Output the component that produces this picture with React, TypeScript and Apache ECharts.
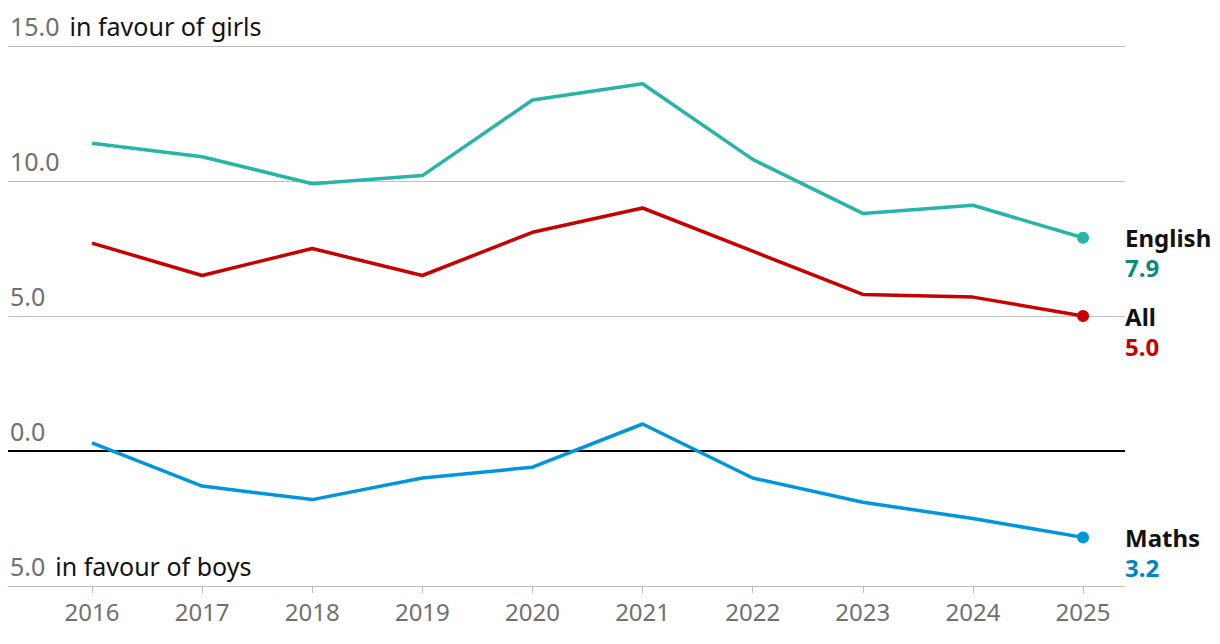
import React, { useEffect, useRef } from "react";
import * as echarts from "echarts";

const years = [2016, 2017, 2018, 2019, 2020, 2021, 2022, 2023, 2024, 2025];
const english = [11.4, 10.9, 9.9, 10.2, 13.0, 13.6, 10.8, 8.8, 9.1, 7.9];
const all = [7.7, 6.5, 7.5, 6.5, 8.1, 9.0, 7.4, 5.8, 5.7, 5.0];
const maths = [0.3, -1.3, -1.8, -1.0, -0.6, 1.0, -1.0, -1.9, -2.5, -3.2];

const FONT = "'Noto Sans', sans-serif";

const seriesDefs = [
  { name: "English", values: english, line: "#26b5a7", text: "#0a8a7e" },
  { name: "All", values: all, line: "#c70000", text: "#c70000" },
  { name: "Maths", values: maths, line: "#0096db", text: "#0084c6" },
];

export default function App() {
  const ref = useRef<HTMLDivElement>(null);
  useEffect(() => {
    if (!ref.current) return;
    const chart = echarts.init(ref.current, null, { renderer: "svg" });
    const series: any[] = [];
    seriesDefs.forEach((s, i) => {
      series.push({
        type: "line",
        name: s.name,
        data: years.map((y, k) => [y, s.values[k]]),
        showSymbol: false,
        symbol: "none",
        lineStyle: { color: s.line, width: 3.5 },
        z: 3,
        markLine:
          i === 0
            ? {
                symbol: "none",
                silent: true,
                label: { show: false },
                lineStyle: { color: "#000000", width: 2, type: "solid", opacity: 1 },
                data: [{ yAxis: 0 }],
                z: 1,
              }
            : undefined,
      });
      const last = s.values[s.values.length - 1];
      series.push({
        type: "scatter",
        data: [[years[years.length - 1], last]],
        symbol: "circle",
        symbolSize: 12,
        itemStyle: { color: s.line, opacity: 1 },
        z: 4,
        label: {
          show: true,
          position: "right",
          distance: 36,
          offset: [0, 15],
          opacity: 1,
          formatter: `{n|${s.name}}\n{v|${Math.abs(last).toFixed(1)}}`,
          rich: {
            n: { fontFamily: FONT, fontSize: 24, fontWeight: "bold", color: "#121212", lineHeight: 30 },
            v: { fontFamily: FONT, fontSize: 24, fontWeight: "bold", color: s.text, lineHeight: 30 },
          },
        },
      });
    });

    chart.setOption({
      animation: false,
      grid: { left: 8, right: 95, top: 46, bottom: 58, containLabel: false },
      xAxis: {
        type: "value",
        min: 2015.237,
        max: 2025.381,
        splitLine: { show: false },
        axisLine: { show: true, onZero: false, lineStyle: { color: "#bdbdbd", width: 1 } },
        axisTick: { show: true, length: 7, customValues: years, lineStyle: { color: "#bdbdbd" } },
        axisLabel: {
          customValues: years,
          formatter: (v: number) => String(Math.round(v)),
          color: "#707070",
          fontFamily: FONT,
          fontSize: 24,
          margin: 13,
        },
      },
      yAxis: {
        type: "value",
        min: -5,
        max: 15,
        interval: 5,
        axisLine: { show: false },
        axisTick: { show: false },
        splitLine: { show: true, lineStyle: { color: "#bdbdbd", width: 1 } },
        axisLabel: {
          inside: true,
          margin: 2,
          verticalAlign: "bottom",
          padding: [0, 0, 6, 0],
          formatter: (v: number) => {
            const num = Math.abs(v).toFixed(1);
            if (v === 15) return `{a|${num}}{b|in favour of girls}`;
            if (v === -5) return `{a|${num}}{b|in favour of boys}`;
            return `{a|${num}}`;
          },
          rich: {
            a: { fontFamily: FONT, fontSize: 25, color: "#707070", lineHeight: 28 },
            b: { fontFamily: FONT, fontSize: 25, color: "#121212", lineHeight: 28, padding: [0, 0, 0, 10] },
          },
        },
        z: 0,
      },
      series,
    });
    return () => chart.dispose();
  }, []);
  return (
    <div
      ref={ref}
      style={{ position: "absolute", left: 0, top: 0, width: 1220, height: 644, background: "#fff" }}
    />
  );
}
